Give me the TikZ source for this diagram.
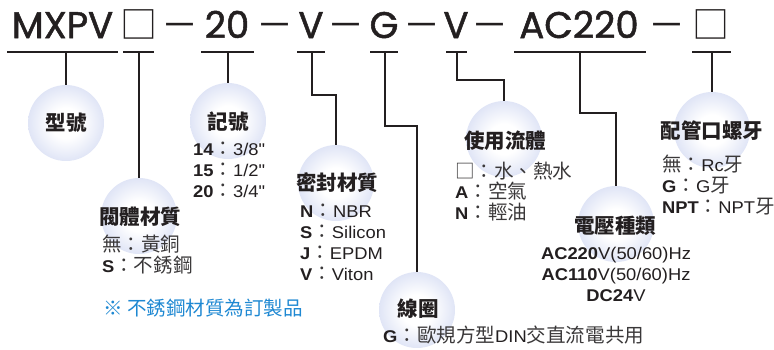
\documentclass[tikz,border=0pt]{standalone}
\usepackage{fontspec}
\setmainfont{Liberation Sans}[FakeStretch=1.08, Ligatures=TeXOff]
\newfontfamily\cjk{Noto Sans CJK TC}[Scale=1.15]
\newfontfamily\cjkh{Noto Sans CJK TC}
\newfontfamily\titlefont{Poppins}[FakeBold=1.4]
\newcommand\zh[1]{{\cjk\color{cjkgrey}#1}}
\definecolor{ink}{HTML}{231F20}
\definecolor{cjkgrey}{HTML}{3A3839}
\definecolor{bubedge}{RGB}{224,229,246}
\definecolor{noteblue}{HTML}{1E88D2}
\pgfdeclareradialshading{bubble}{\pgfpoint{0bp}{0bp}}{color(0bp)=(white); color(10bp)=(white); color(25bp)=(bubedge); color(50bp)=(bubedge)}
\tikzset{
  bub/.style={circle, minimum size=76pt, inner sep=0pt, shading=bubble},
  head/.style={font=\cjkh\bfseries\fontsize{20.5}{22}\selectfont, text=ink},
  item/.style={anchor=base west, inner sep=0pt, font=\fontsize{17}{21}\selectfont, text=ink},
  ttl/.style={anchor=base, inner sep=0pt, font=\titlefont\fontsize{37}{40}\selectfont, text=ink},
  ttlc/.style={anchor=base, inner sep=0pt, font=\cjkh\fontsize{37}{40}\selectfont, text=ink},
  uline/.style={draw=ink, line width=1.5pt},
  conn/.style={draw=ink, line width=1.3pt}
}
\begin{document}
\begin{tikzpicture}[x=1pt,y=-1pt]
\useasboundingbox (0,0) rectangle (774,349);
% title
\node[ttl] (tMXPV) at (62.5,38) {MXPV};
\node[ttlc] (tB1) at (138.5,38) {□};
\node[ttlc] (d1) at (180,38) {－};
\node[ttl] (t20) at (227,38) {20};
\node[ttlc] (d2) at (275,38) {－};
\node[ttl] (tV1) at (311,38) {V};
\node[ttlc] (d3) at (345.5,38) {－};
\node[ttl] (tG) at (384,38) {G};
\node[ttlc] (d4) at (421.5,38) {－};
\node[ttl] (tV2) at (456,38) {V};
\node[ttlc] (d5) at (489.5,38) {－};
\node[ttl] (tAC) at (579,38) {AC220};
\node[ttlc] (d6) at (666.5,38) {－};
\node[ttlc] (tB2) at (711,38) {□};
% underlines
\draw[uline] (7,52) -- (118,52);
\draw[uline] (123,52) -- (154,52);
\draw[uline] (201,52) -- (254,52);
\draw[uline] (297,52) -- (325,52);
\draw[uline] (370,52) -- (398,52);
\draw[uline] (446,52) -- (467,52);
\draw[uline] (514,52) -- (646,52);
\draw[uline] (692,52) -- (731,52);
\coordinate (u1) at (66,52);
\coordinate (u2) at (139,52);
\coordinate (u3) at (228,52);
\coordinate (u4) at (312,52);
\coordinate (u5) at (385,52);
\coordinate (u6) at (457,52);
\coordinate (u7) at (580,52);
\coordinate (u8) at (712,52);
% bubbles
\node[bub] (c1) at (66,123) {};
\node[bub] (c2) at (139,216) {};
\node[bub] (c3) at (228,121) {};
\node[bub] (c4) at (336,183) {};
\node[bub] (c5) at (417,310) {};
\node[bub] (c6) at (504,139) {};
\node[bub] (c7) at (616,224) {};
\node[bub] (c8) at (712,130) {};
% connectors
\draw[conn] (u1) -- (c1.north);
\draw[conn] (u2) -- (c2.north);
\draw[conn] (u3) -- (c3.north);
\draw[conn] (u4) -- ++(0,43) -| (c4.north);
\draw[conn] (u5) -- ++(0,74) -| (c5.north);
\draw[conn] (u6) -- ++(0,28) -| (c6.north);
\draw[conn] (u7) -- ++(0,61) -| (c7.north);
\draw[conn] (u8) -- (c8.north);
% headings
\node[head] (h1) at (66,123) {型號};
\node[head] (h2) at (140,217) {閥體材質};
\node[head] (h3) at (228,122) {記號};
\node[head] (h4) at (337,183) {密封材質};
\node[head] (h5) at (418,309) {線圈};
\node[head] (h6) at (505,141) {使用流體};
\node[head] (h7) at (615,226) {電壓種類};
\node[head] (h8) at (712,131) {配管口螺牙};
% lists
\node[item] (a1) at (102,251) {\zh{無：黃銅}};
\node[item] (a2) at (102,272) {\textbf{S}\zh{：不銹鋼}};
\node[item] (b1) at (193,155) {\textbf{14}\zh{：}3/8"};
\node[item] (b2) at (193,176) {\textbf{15}\zh{：}1/2"};
\node[item] (b3) at (193,197) {\textbf{20}\zh{：}3/4"};
\node[item] (s1) at (300,217) {\textbf{N}\zh{：}NBR};
\node[item] (s2) at (300,238) {\textbf{S}\zh{：}Silicon};
\node[item] (s3) at (300,259) {\textbf{J}\zh{：}EPDM};
\node[item] (s4) at (300,280) {\textbf{V}\zh{：}Viton};
\node[item] (g1) at (383,342) {\textbf{G}\zh{：歐規方型}DIN\zh{交直流電共用}};
\node[item] (f1) at (455,178) {\zh{□：水、熱水}};
\node[item] (f2) at (455,198) {\textbf{A}\zh{：空氣}};
\node[item] (f3) at (455,219) {\textbf{N}\zh{：輕油}};
\node[item, anchor=base] (v1) at (616,259) {\textbf{AC220}V(50/60)Hz};
\node[item, anchor=base] (v2) at (616,280) {\textbf{AC110}V(50/60)Hz};
\node[item, anchor=base] (v3) at (616,301) {\textbf{DC24}V};
\node[item] (p1) at (662,171) {\zh{無：}Rc\zh{牙}};
\node[item] (p2) at (662,192) {\textbf{G}\zh{：}G\zh{牙}};
\node[item] (p3) at (662,213) {\textbf{NPT}\zh{：}NPT\zh{牙}};
% note
\node[item, text=noteblue] (note) at (103,315) {{\cjk ※ 不銹鋼材質為訂製品}};
\end{tikzpicture}
\end{document}
